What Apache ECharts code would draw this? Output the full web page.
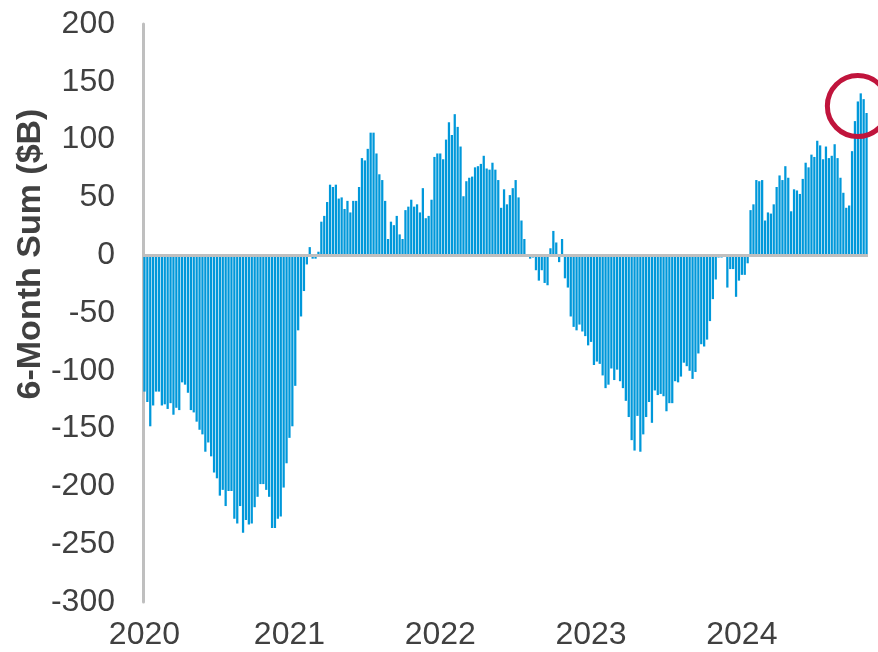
<!DOCTYPE html>
<html>
<head>
<meta charset="utf-8">
<script src="https://cdn.jsdelivr.net/npm/echarts@6/dist/echarts.min.js"></script>
<style>
  html, body { margin: 0; padding: 0; background: #ffffff; }
  #chart { width: 878px; height: 652px; }
</style>
</head>
<body>
<div id="chart"></div>
<script>
// Weekly 6-month rolling sums ($B), one array per calendar year.
const yearLabels = ['2020', '2021', '2022', '2023', '2024'];
const sums2020 = [
  -118, -127, -148, -130, -118, -118, -130, -129, -133, -128,
  -138, -132, -134, -110, -112, -119, -134, -136, -144, -151,
  -155, -170, -162, -174, -188, -193, -208, -203, -217, -204,
  -204, -228, -232, -217, -240, -229, -233, -232, -218, -209,
  -198, -198, -203, -209, -236, -236, -228, -226, -201, -180
];
const sums2021 = [
  -158, -148, -113, -65, -53, -31, -8, 7, -3, -3,
  3, 29, 34, 46, 61, 59, 61, 49, 50, 40,
  47, 37, 47, 47, 59, 84, 82, 92, 106, 106,
  88, 70, 65, 47, 14, 29, 26, 34, 18, 14,
  39, 42, 48, 42, 44, 37, 58, 32, 34, 48,
  85, 88
];
const sums2022 = [
  88, 83, 100, 115, 104, 122, 111, 94, 51, 64,
  67, 68, 76, 77, 79, 86, 75, 74, 80, 74,
  65, 41, 57, 44, 52, 58, 65, 50, 30, 14,
  -1, -3, -2, -13, -22, -13, -24, -26, 6, 21,
  11, -6, 14, -20, -28, -53, -62, -65, -60, -66,
  -70, -78
];
const sums2023 = [
  -75, -95, -92, -94, -104, -115, -112, -98, -108, -99,
  -109, -115, -126, -140, -160, -169, -139, -170, -155, -140,
  -127, -145, -117, -121, -120, -122, -135, -128, -128, -109,
  -110, -105, -93, -96, -100, -107, -101, -85, -77, -79,
  -73, -57, -38, -21, -2, -2, 0, -28, -12, -12,
  -36, -22
];
const sums2024 = [
  -17, -17, -7, 39, 44, 65, 64, 65, 30, 37,
  36, 44, 59, 69, 65, 77, 67, 38, 57, 56,
  53, 66, 80, 76, 87, 85, 99, 95, 83, 94,
  84, 86, 96, 84, 67, 54, 41, 43, 90, 116,
  133, 140, 135, 123
];
const yearSeries = [sums2020, sums2021, sums2022, sums2023, sums2024];

// Highlighted recent peak (category index, value at circle centre).
const highlightAt = [246, 129];

// Build the flat weekly series; the year label sits on each year's first week.
const values = [];
const categories = [];
yearSeries.forEach((arr, y) => {
  arr.forEach((v, i) => {
    values.push(v);
    categories.push(i === 0 ? yearLabels[y] : '');
  });
});

const textColor = '#404040';
const fontFamily = '"Liberation Sans", Arial, sans-serif';

const chart = echarts.init(document.getElementById('chart'), null, { renderer: 'canvas' });
chart.setOption({
  animation: false,
  backgroundColor: '#ffffff',
  grid: { left: 143, top: 24, width: 725, bottom: 50, containLabel: false },
  xAxis: {
    type: 'category',
    data: categories,
    boundaryGap: true,
    axisLine: { show: false, onZero: false },
    axisTick: { show: false },
    splitLine: { show: false },
    axisLabel: {
      interval: 0,
      margin: 17,
      color: textColor,
      fontSize: 32,
      fontFamily: fontFamily
    }
  },
  yAxis: {
    type: 'value',
    min: -300,
    max: 200,
    interval: 50,
    axisLine: { show: true, lineStyle: { color: '#BFBFBF', width: 3 } },
    axisTick: { show: false },
    splitLine: { show: false },
    axisLabel: {
      margin: 28,
      color: textColor,
      fontSize: 32,
      fontFamily: fontFamily
    }
  },
  graphic: [{
    type: 'text',
    x: 31,
    y: 254,
    rotation: Math.PI / 2,
    style: {
      text: '6-Month Sum ($B)',
      x: 0,
      y: 0,
      align: 'center',
      verticalAlign: 'middle',
      fill: textColor,
      font: 'bold 34px "Liberation Sans", Arial, sans-serif'
    }
  }],
  series: [{
    type: 'bar',
    data: values,
    barCategoryGap: '22%',
    itemStyle: { color: '#0098DA' },
    markLine: {
      silent: true,
      symbol: 'none',
      label: { show: false },
      lineStyle: { color: '#BFBFBF', width: 3, type: 'solid' },
      data: [{ yAxis: 0 }]
    },
    markPoint: {
      silent: true,
      symbol: 'circle',
      symbolSize: 61,
      label: { show: false },
      itemStyle: { color: 'rgba(0,0,0,0)', borderColor: '#C0143C', borderWidth: 5 },
      data: [{ coord: highlightAt }]
    }
  }]
});
</script>
</body>
</html>
